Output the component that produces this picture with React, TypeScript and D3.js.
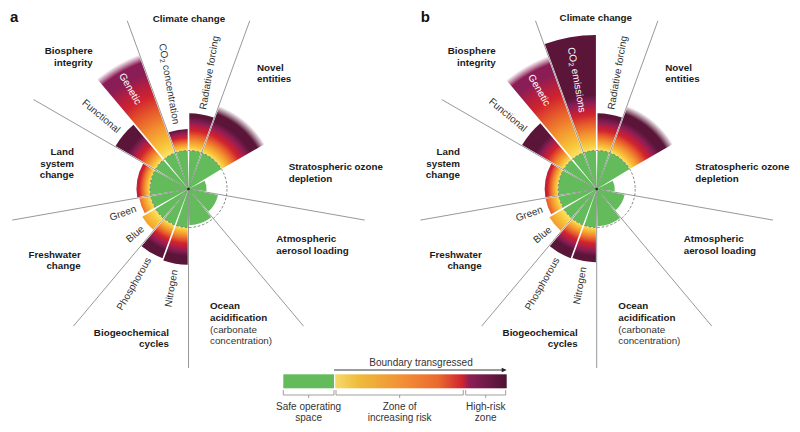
import { useEffect, useRef } from "react";
import * as d3 from "d3";

const WIDTH = 800;
const HEIGHT = 432;

// the nine boundaries, clockwise from the top
const boundaries = [
  ["Climate change"],
  ["Novel", "entities"],
  ["Stratospheric ozone", "depletion"],
  ["Atmospheric", "aerosol loading"],
  ["Ocean", "acidification", "(carbonate", "concentration)"],
  ["Biogeochemical", "cycles"],
  ["Freshwater", "change"],
  ["Land", "system", "change"],
  ["Biosphere", "integrity"],
];
const plainLines = ["(carbonate", "concentration)"];
// sectors that get a separator ray at their start
const rayAtStart = [true, true, false, true, true, true, true, true, true];

// control variables (wedges), share of a boundary sector each
const wedgeShare = [0.5, 0.5, 1, 1, 1, 1, 0.5, 0.5, 0.5, 0.5, 1, 0.5, 0.5];
const subLabelsA = ["CO2 concentration", "Radiative forcing", "", "", "", "", "Nitrogen", "Phosphorous", "Blue", "Green", "", "Functional", "Genetic"];
const subLabelsB = ["CO2 emissions", "Radiative forcing", "", "", "", "", "Nitrogen", "Phosphorous", "Blue", "Green", "", "Functional", "Genetic"];
// values in multiples of the boundary (1 = boundary)
const valuesA = [1.56, 1.97, 2.3, 0.47, 0.78, 0.94, 1.97, 1.92, 1.4, 1.3, 1.35, 2.2, 3.72];
const valuesB = [4.0, 1.97, 2.3, 0.47, 0.74, 0.97, 1.9, 1.92, 1.43, 1.35, 1.35, 2.25, 3.68];
// value where the zone of increasing risk reaches red, and where it reaches the darkest colour
const redAtA = [1.33, 1.52, 1.52, 2, 2, 2, 1.42, 1.4, 2.0, 1.45, 1.28, 1.5, 2.6];
const redAtB = [1.95, 1.52, 1.52, 2, 2, 2, 1.42, 1.4, 2.0, 1.45, 1.28, 1.5, 2.6];
const darkAtA = [1.55, 1.88, 1.88, 3, 3, 3, 1.75, 1.7, 2.4, 1.8, 1.55, 1.85, 3.6];
const darkAtB = [2.45, 1.88, 1.88, 3, 3, 3, 1.75, 1.7, 2.4, 1.8, 1.55, 1.85, 3.6];
const fading = [false, false, true, false, false, false, false, false, false, false, false, false, true];
const insideLabels = ["Genetic", "CO2 emissions"];

const legendLabels = [["Safe operating", "space"], ["Zone of", "increasing risk"], ["High-risk", "zone"]];

const GREEN = "#63bb5c";
const FONT = "'Liberation Sans', Arial, sans-serif";
const R0 = 38.5;
const RAY = 179;

const zoneStops: [number, string][] = [
  [0, "#fbe46a"],
  [0.17, "#f8c73a"],
  [0.47, "#f39230"],
  [0.75, "#e65a2b"],
  [1, "#d0232f"],
];
const highStops: [number, string][] = [
  [0.3, "#b51e40"],
  [0.6, "#8a1d56"],
  [1, "#5a1538"],
];

const panels = [
  {
    letter: "a", cx: 188.5, cy: 189, values: valuesA, redAt: redAtA, darkAt: darkAtA, subs: subLabelsA,
    labelPos: [[0.5, -167.3, "middle"], [68.5, -118.3, "start"], [100.2, -19, "start"], [87.8, 53, "start"],
      [21.5, 120.3, "start"], [-19.5, 146.7, "end"], [-107.8, 68.7, "end"], [-114.5, -34, "end"], [-95.8, -135, "end"]],
  },
  {
    letter: "b", cx: 596.7, cy: 189, values: valuesB, redAt: redAtB, darkAt: darkAtB, subs: subLabelsB,
    labelPos: [[-0.9, -168.1, "middle"], [68.6, -118.3, "start"], [98.6, -19, "start"], [87, 53, "start"],
      [21.6, 120.3, "start"], [-19, 146.7, "end"], [-115, 68.7, "end"], [-136.7, -34, "end"], [-101, -135, "end"]],
  },
];

const rScale = d3.scaleLinear().domain([0, 1]).range([0, R0]);
const angle = d3.scaleLinear().domain([0, 9]).range([-20, 340]); // degrees from north
const rad = (d: number) => (d * Math.PI) / 180;

function writeLabel(sel: any, text: string, size: number) {
  const m = text.match(/^CO2(.*)$/);
  if (m) {
    sel.append("tspan").text("CO");
    sel.append("tspan").attr("font-size", size * 0.7).attr("dy", size * 0.28).text("2");
    sel.append("tspan").attr("dy", -size * 0.28).text(m[1]);
  } else sel.text(text);
}

const Chart = () => {
  const ref = useRef<SVGSVGElement>(null);

  useEffect(() => {
    if (!ref.current) return;
    const svg = d3.select(ref.current);
    svg.selectAll("*").remove();
    const defs = svg.append("defs");

    const arc = d3.arc().padAngle(0.016).padRadius(100);

    panels.forEach((p) => {
      const g = svg.append("g").attr("transform", `translate(${p.cx},${p.cy})`);

      let acc = 0;
      const mids: number[] = [];
      wedgeShare.forEach((share, i) => {
        const a0 = angle(acc);
        const a1 = angle(acc + share);
        acc += share;
        mids.push((a0 + a1) / 2);
        const v = p.values[i];

        // safe operating part
        g.append("path")
          .attr("d", arc({ innerRadius: 0, outerRadius: rScale(Math.min(v, 1)), startAngle: rad(a0), endAngle: rad(a1) } as any))
          .attr("fill", GREEN);

        if (v > 1) {
          const z = p.redAt[i];
          const h = p.darkAt[i];
          const rMax = rScale(Math.max(v, h));
          const gid = `grad-${p.letter}-${i}`;
          const grad = defs.append("radialGradient")
            .attr("id", gid)
            .attr("gradientUnits", "userSpaceOnUse")
            .attr("cx", 0).attr("cy", 0).attr("r", rMax);
          const stops: [number, string][] = [
            ...zoneStops.map(([t, c]) => [1 + t * (z - 1), c] as [number, string]),
            ...highStops.map(([t, c]) => [z + t * (h - z), c] as [number, string]),
          ];
          const fadeStart = fading[i] ? v - 0.22 : Infinity;
          let last = stops[0][1];
          stops.forEach(([val, c]) => {
            if (val > fadeStart) return;
            last = c;
            grad.append("stop").attr("offset", rScale(val) / rMax).attr("stop-color", c);
          });
          if (fading[i]) {
            grad.append("stop").attr("offset", rScale(fadeStart) / rMax).attr("stop-color", last);
            grad.append("stop").attr("offset", rScale(v) / rMax).attr("stop-color", last).attr("stop-opacity", 0);
          }
          g.append("path")
            .attr("d", arc({ innerRadius: R0, outerRadius: rScale(v), startAngle: rad(a0), endAngle: rad(a1) } as any))
            .attr("fill", `url(#${gid})`);
        }
      });

      // separator rays
      boundaries.forEach((_, k) => {
        if (!rayAtStart[k]) return;
        const a = rad(angle(k));
        g.append("line")
          .attr("x1", 0).attr("y1", 0)
          .attr("x2", RAY * Math.sin(a)).attr("y2", -RAY * Math.cos(a))
          .attr("stroke", "#8c8c8c").attr("stroke-width", 0.9);
      });

      // boundary circle
      g.append("circle").attr("r", R0).attr("fill", "none")
        .attr("stroke", "#6a6a6a").attr("stroke-width", 0.8).attr("stroke-dasharray", "2.6,1.8");
      g.append("circle").attr("r", 1.3).attr("fill", "#222");

      // sub-labels along the wedges
      p.subs.forEach((txt, i) => {
        if (!txt) return;
        const th = mids[i];
        const thn = ((th % 360) + 360) % 360;
        const a = rad(th);
        const v = p.values[i];
        let r: number, rot: number, anchor: string, fill = "#333";
        if (insideLabels.includes(txt)) {
          r = rScale(v) - 10; rot = th + 90; anchor = "start"; fill = "#fff";
        } else if (thn < 180) {
          r = rScale(v) + 5; rot = th - 90; anchor = "start";
        } else {
          r = rScale(v) + 6; rot = th + 90; anchor = "end";
        }
        const t = g.append("text")
          .attr("transform", `translate(${r * Math.sin(a)},${-r * Math.cos(a)}) rotate(${rot})`)
          .attr("text-anchor", anchor)
          .attr("dominant-baseline", "central")
          .attr("font-family", FONT).attr("font-size", 10).attr("fill", fill);
        writeLabel(t, txt, 10);
      });

      // boundary names
      boundaries.forEach((lines, k) => {
        const [x, y, anchor] = p.labelPos[k] as [number, number, string];
        const t = g.append("text").attr("text-anchor", anchor).attr("font-family", FONT).attr("font-size", 9.8);
        lines.forEach((ln, j) => {
          const plain = plainLines.includes(ln);
          t.append("tspan")
            .attr("x", x).attr("y", y + j * 11.6)
            .attr("font-weight", plain ? "normal" : "bold")
            .attr("fill", plain ? "#333" : "#1a1a1a")
            .text(ln);
        });
      });

      svg.append("text").attr("x", p.cx + (p.letter === "a" ? -178.5 : -176)).attr("y", 21.5)
        .attr("font-family", FONT).attr("font-weight", "bold").attr("font-size", 15).attr("fill", "#111")
        .text(p.letter);
    });

    // legend
    const lx0 = 283.3, lx1 = 334, lx2 = 335.2, lx3 = 506.7, ly = 374.3, lh = 14;
    const lg = defs.append("linearGradient").attr("id", "legend-grad");
    ([
      [0, "#f6d96c"], [0.14, "#eebb3a"], [0.42, "#f28a36"], [0.6, "#ea6a2e"], [0.745, "#cf2131"],
      [0.78, "#8e1f57"], [0.9, "#6a1a45"], [1, "#4e1232"],
    ] as [number, string][]).forEach(([o, c]) => lg.append("stop").attr("offset", o).attr("stop-color", c));
    svg.append("rect").attr("x", lx0).attr("y", ly).attr("width", lx1 - lx0).attr("height", lh).attr("fill", GREEN);
    svg.append("rect").attr("x", lx2).attr("y", ly).attr("width", lx3 - lx2).attr("height", lh).attr("fill", "url(#legend-grad)");

    svg.append("line").attr("x1", lx1).attr("x2", lx3 - 3).attr("y1", 370).attr("y2", 370)
      .attr("stroke", "#222").attr("stroke-width", 0.9);
    svg.append("path").attr("d", `M${lx3},370 l-5,-2.2 v4.4 z`).attr("fill", "#222");
    svg.append("text").attr("x", 421).attr("y", 366).attr("text-anchor", "middle")
      .attr("font-family", FONT).attr("font-size", 10).attr("fill", "#333").text("Boundary transgressed");

    const brackets = [[lx0, lx1], [336, 463.3], [465.7, lx3 - 1]];
    brackets.forEach(([b0, b1], i) => {
      const mid = (b0 + b1) / 2;
      svg.append("path")
        .attr("d", `M${b0},390 V395 H${b1} V390 M${mid},395 V398`)
        .attr("fill", "none").attr("stroke", "#888").attr("stroke-width", 0.8);
      const t = svg.append("text").attr("text-anchor", "middle")
        .attr("font-family", FONT).attr("font-size", 10).attr("fill", "#333");
      legendLabels[i].forEach((ln, j) => {
        t.append("tspan").attr("x", mid).attr("y", 410 + j * 10.7).text(ln);
      });
    });
  }, []);

  return <svg ref={ref} width={WIDTH} height={HEIGHT} style={{ position: "absolute", left: 0, top: 0, background: "#fff" }} />;
};

export default function App() {
  return <Chart />;
}
